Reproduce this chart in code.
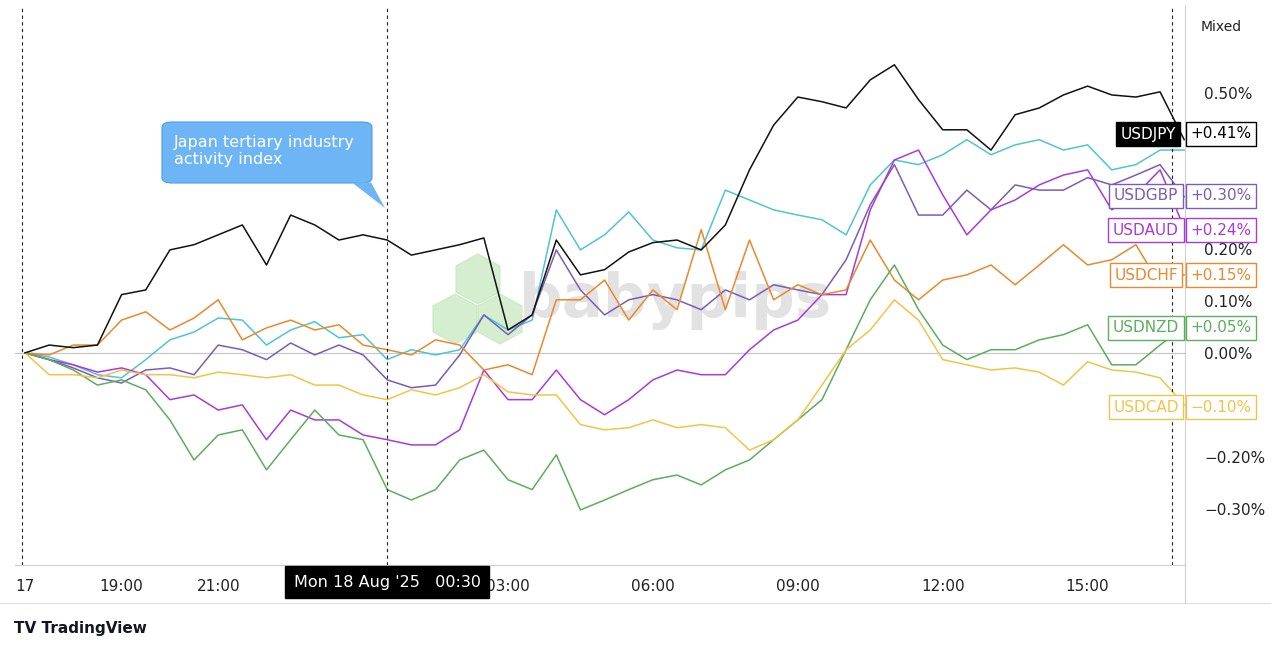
import numpy as np, pandas as pd, seaborn as sns, matplotlib
matplotlib.use("Agg")
import matplotlib.pyplot as plt
from matplotlib.patches import FancyBboxPatch, Polygon

hours = [i*0.5 for i in range(49)]
usdjpy = [0.0,0.015,0.010,0.015,0.112,0.121,0.198,0.208,0.227,0.246,0.169,0.265,0.246,0.217,0.227,0.217,0.188,0.198,0.208,0.221,0.044,0.073,0.217,0.150,0.160,0.194,0.212,0.217,0.198,0.246,0.352,0.438,0.492,0.483,0.471,0.525,0.554,0.487,0.429,0.429,0.390,0.458,0.471,0.496,0.513,0.496,0.492,0.502,0.41]
usdeur = [0.0,-0.008,-0.023,-0.042,-0.048,-0.013,0.025,0.040,0.067,0.063,0.015,0.044,0.060,0.029,0.035,-0.013,0.006,-0.004,0.006,0.073,0.044,0.063,0.275,0.198,0.227,0.271,0.217,0.202,0.198,0.313,0.294,0.275,0.265,0.256,0.227,0.323,0.371,0.362,0.381,0.410,0.381,0.400,0.410,0.390,0.400,0.352,0.362,0.390,0.39]
usdgbp = [0.0,-0.013,-0.029,-0.048,-0.058,-0.033,-0.029,-0.042,0.015,0.006,-0.013,0.019,-0.004,0.015,-0.004,-0.052,-0.067,-0.062,-0.004,0.073,0.035,0.073,0.198,0.121,0.073,0.102,0.112,0.102,0.083,0.121,0.102,0.131,0.121,0.112,0.179,0.285,0.362,0.265,0.265,0.313,0.275,0.323,0.313,0.313,0.337,0.323,0.342,0.362,0.30]
usdaud = [0.0,-0.013,-0.023,-0.037,-0.029,-0.042,-0.090,-0.081,-0.110,-0.100,-0.167,-0.110,-0.129,-0.129,-0.158,-0.167,-0.177,-0.177,-0.148,-0.033,-0.090,-0.090,-0.033,-0.090,-0.119,-0.090,-0.052,-0.033,-0.042,-0.042,0.006,0.044,0.063,0.112,0.112,0.275,0.371,0.390,0.304,0.227,0.275,0.294,0.323,0.342,0.352,0.275,0.304,0.352,0.24]
usdchf = [0.0,-0.004,0.015,0.015,0.063,0.079,0.044,0.067,0.102,0.025,0.048,0.063,0.044,0.054,0.015,0.006,-0.004,0.025,0.015,-0.033,-0.023,-0.042,0.102,0.102,0.140,0.063,0.121,0.083,0.237,0.083,0.217,0.102,0.131,0.112,0.121,0.217,0.140,0.102,0.140,0.150,0.169,0.131,0.169,0.208,0.169,0.179,0.208,0.131,0.15]
usdnzd = [0.0,-0.013,-0.033,-0.062,-0.052,-0.071,-0.129,-0.206,-0.158,-0.148,-0.225,-0.167,-0.110,-0.158,-0.167,-0.263,-0.283,-0.263,-0.206,-0.187,-0.244,-0.263,-0.196,-0.302,-0.283,-0.263,-0.244,-0.235,-0.254,-0.225,-0.206,-0.167,-0.129,-0.090,0.006,0.102,0.169,0.083,0.015,-0.013,0.006,0.006,0.025,0.035,0.054,-0.023,-0.023,0.015,0.05]
usdcad = [0.0,-0.042,-0.042,-0.048,-0.033,-0.042,-0.042,-0.048,-0.037,-0.042,-0.048,-0.042,-0.062,-0.062,-0.081,-0.090,-0.071,-0.081,-0.067,-0.042,-0.075,-0.081,-0.081,-0.138,-0.148,-0.144,-0.129,-0.144,-0.138,-0.144,-0.187,-0.167,-0.129,-0.062,0.006,0.044,0.102,0.063,-0.013,-0.023,-0.033,-0.029,-0.037,-0.062,-0.017,-0.033,-0.037,-0.048,-0.10]

series = {"USDEUR": usdeur, "USDGBP": usdgbp, "USDAUD": usdaud, "USDCHF": usdchf,
          "USDNZD": usdnzd, "USDCAD": usdcad, "USDJPY": usdjpy}
colors = {"USDJPY": "#111111", "USDEUR": "#4FC4D3", "USDGBP": "#7B5CB8", "USDAUD": "#A83ADB",
          "USDCHF": "#E8892B", "USDNZD": "#5BAE5B", "USDCAD": "#F2C446"}
tick_pos = [0, 2, 4, 10, 13, 16, 19, 22]
tick_lab = ["17", "19:00", "21:00", "03:00", "06:00", "09:00", "12:00", "15:00"]
ytick_vals = [0.5, 0.2, 0.1, 0.0, -0.2, -0.3]
ytick_lab = ["0.50%", "0.20%", "0.10%", "0.00%", "\u22120.20%", "\u22120.30%"]
tags = [("USDJPY", "+0.41%", 134), ("USDGBP", "+0.30%", 196), ("USDAUD", "+0.24%", 230),
        ("USDCHF", "+0.15%", 275), ("USDNZD", "+0.05%", 328), ("USDCAD", "\u22120.10%", 407)]

df = pd.concat([pd.DataFrame({"h": hours, "v": v, "s": k}) for k, v in series.items()])

W, H = 1280, 650
fig = plt.figure(figsize=(12.8, 6.5), dpi=100)
fig.patch.set_facecolor("white")
def fx(x): return x / W
def fy(y): return 1 - y / H
ax = fig.add_axes([fx(15), fy(565), 1170 / W, 560 / H])
ax.set_zorder(1)
ax.patch.set_alpha(0)
sns.lineplot(data=df, x="h", y="v", hue="s", palette=colors, ax=ax, legend=False, linewidth=1.1, estimator=None)
ax.set_xlim((15 - 25) / 48.3, (1185 - 25) / 48.3)
ax.set_ylim(-0.408, 0.669)
ax.axhline(0, color="#c8c8c8", lw=0.9, zorder=0)
for xv in [(22 - 25) / 48.3, (387 - 25) / 48.3, (1172 - 25) / 48.3]:
    ax.axvline(xv, color="#222222", lw=0.8, ls=(0, (3, 3)))
for s in ["top", "left"]:
    ax.spines[s].set_visible(False)
ax.spines["right"].set_color("#d0d0d0"); ax.spines["bottom"].set_color("#d0d0d0")
ax.set_xticks(tick_pos)
ax.set_xticklabels(tick_lab, fontsize=11, color="#222")
ax.tick_params(axis="x", length=0, pad=10)
ax.yaxis.tick_right()
ax.set_yticks(ytick_vals)
ax.set_yticklabels(ytick_lab, fontsize=11, color="#222")
ax.tick_params(axis="y", length=0, pad=14)
ax.set_xlabel(""); ax.set_ylabel("")
ax.grid(False)
fig.add_artist(plt.Line2D([fx(0), fx(1270)], [fy(603), fy(603)], color="#e0e0e0", lw=0.8))
fig.add_artist(plt.Line2D([fx(1185), fx(1185)], [fy(565), fy(603)], color="#d0d0d0", lw=0.8))
# watermark (behind lines)
wm = fig.text(fx(675), fy(300), "babypips", fontsize=44, color="#e2e2e2", ha="center", va="center", weight="bold")
wm.set_zorder(0)
for (cx, cy) in [(478, 278), (455, 318), (500, 318)]:
    p = Polygon([(fx(cx-22), fy(cy-12)), (fx(cx), fy(cy-24)), (fx(cx+22), fy(cy-12)),
                 (fx(cx+22), fy(cy+14)), (fx(cx), fy(cy+26)), (fx(cx-22), fy(cy+14))],
                closed=True, color="#c4e8bd", alpha=0.7, zorder=0, transform=fig.transFigure)
    fig.add_artist(p)
# callout
fig.add_artist(FancyBboxPatch((fx(162), fy(183)), (372 - 162) / W, (183 - 122) / H,
                              boxstyle="round,pad=0,rounding_size=0.008", fc="#6DB5F5", ec="#4A9DE8", lw=0.8,
                              transform=fig.transFigure, zorder=5))
fig.add_artist(Polygon([(fx(352), fy(182.5)), (fx(371), fy(182.5)), (fx(385), fy(208))], closed=True,
                       fc="#6DB5F5", ec="none", transform=fig.transFigure, zorder=5))
fig.text(fx(174), fy(151), "Japan tertiary industry\nactivity index", fontsize=11.5, color="white",
         va="center", ha="left", linespacing=1.1, zorder=6)
for name, val, y in tags:
    c = colors[name]
    if name == "USDJPY":
        fig.text(fx(1148), fy(y), name, fontsize=11, color="white", ha="center", va="center", zorder=10,
                 bbox=dict(boxstyle="square,pad=0.3", fc="black", ec="black"))
        fig.text(fx(1221), fy(y), val, fontsize=11, color="black", ha="center", va="center", zorder=10,
                 bbox=dict(boxstyle="square,pad=0.3", fc="white", ec="black"))
    else:
        fig.text(fx(1146), fy(y), name, fontsize=11, color=c, ha="center", va="center", zorder=10,
                 bbox=dict(boxstyle="square,pad=0.3", fc="white", ec=c))
        fig.text(fx(1221), fy(y), val, fontsize=11, color=c, ha="center", va="center", zorder=10,
                 bbox=dict(boxstyle="square,pad=0.3", fc="white", ec=c))
fig.text(fx(387), fy(582), "Mon 18 Aug '25   00:30", fontsize=11.5, color="white", ha="center", va="center", zorder=10,
         bbox=dict(boxstyle="square,pad=0.55", fc="black", ec="black"))
fig.text(fx(1221), fy(27), "Mixed", fontsize=10, color="#222", ha="center", va="center")
fig.text(fx(14), fy(628), "TV TradingView", fontsize=11, color="#131722", ha="left", va="center", weight="bold")
fig.savefig("out.png", dpi=100)
